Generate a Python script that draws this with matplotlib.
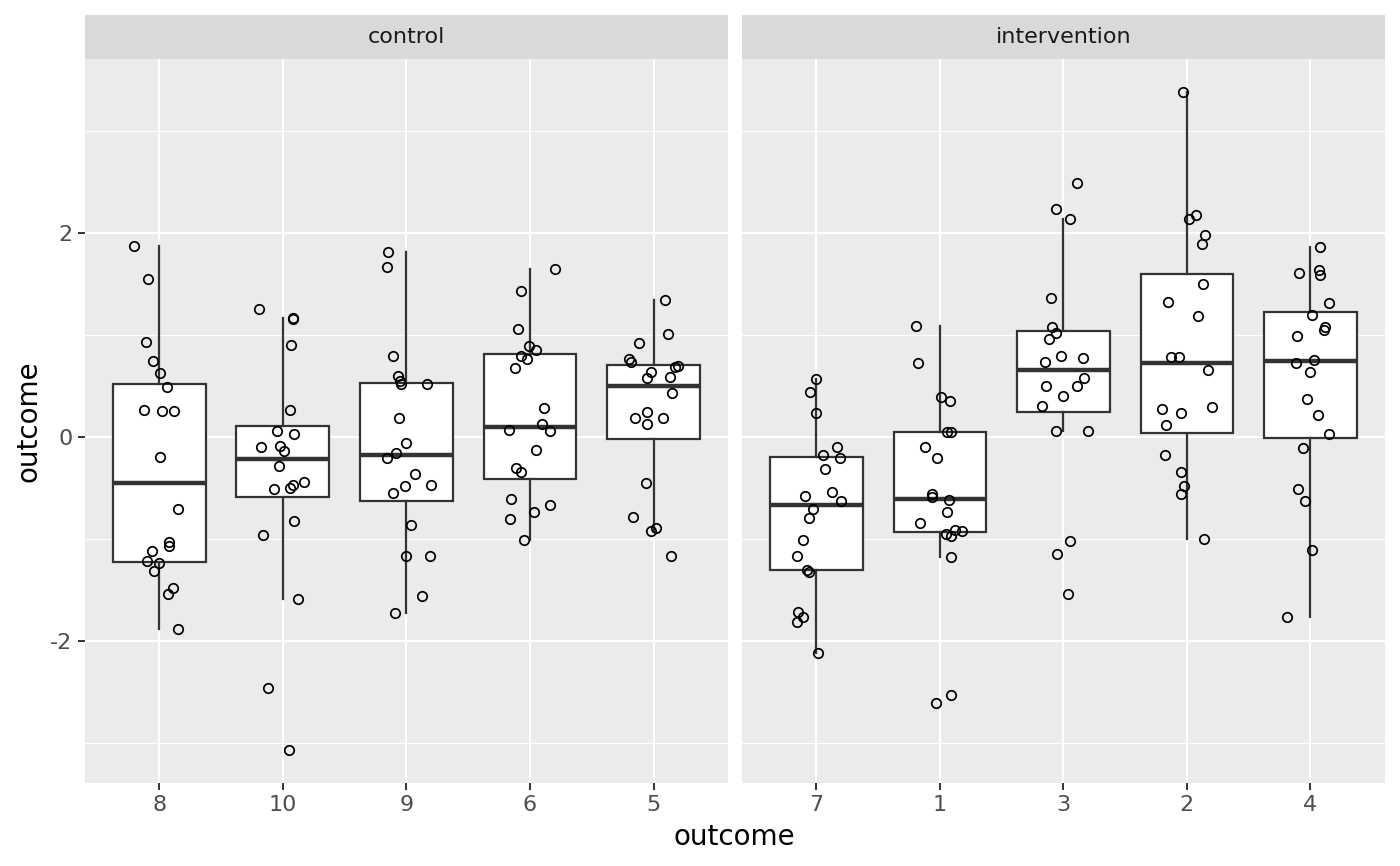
import matplotlib
matplotlib.use("Agg")
import matplotlib.pyplot as plt
from matplotlib.ticker import FixedLocator
import numpy as np

# ---------------- data ----------------
facets = ["control", "intervention"]
control_groups = ["8", "10", "9", "6", "5"]
intervention_groups = ["7", "1", "3", "2", "4"]

outcome_g8 = [1.870, 1.546, 0.934, 0.748, 0.624, 0.484, 0.265, 0.255, 0.255, -0.199,
              -0.703, -1.036, -1.069, -1.124, -1.222, -1.239, -1.314, -1.484, -1.543, -1.886]
jitter_g8 = [-0.20, -0.09, -0.11, -0.05, 0.01, 0.06, -0.12, 0.02, 0.12, 0.01,
             0.15, 0.08, 0.08, -0.06, -0.10, 0.00, -0.04, 0.11, 0.07, 0.15]

outcome_g10 = [1.252, 1.163, 1.160, 0.905, 0.258, 0.059, 0.026, -0.101, -0.088, -0.137,
               -0.291, -0.441, -0.471, -0.503, -0.516, -0.830, -0.961, -1.591, -2.467, -3.069]
jitter_g10 = [-0.19, 0.08, 0.085, 0.07, 0.06, -0.05, 0.09, -0.18, -0.02, 0.01,
              -0.03, 0.17, 0.08, 0.06, -0.07, 0.09, -0.16, 0.12, -0.12, 0.05]

outcome_g9 = [1.817, 1.667, 0.794, 0.601, 0.552, 0.520, 0.520, 0.180, -0.062, -0.160,
              -0.203, -0.369, -0.484, -0.477, -0.552, -0.860, -1.167, -1.167, -1.565, -1.725]
jitter_g9 = [-0.15, -0.16, -0.11, -0.07, -0.05, -0.04, 0.17, -0.06, 0.00, -0.08,
             -0.16, 0.07, -0.01, 0.20, -0.11, 0.04, 0.00, 0.19, 0.13, -0.09]

outcome_g6 = [1.650, 1.431, 1.056, 0.886, 0.853, 0.794, 0.761, 0.673, 0.284, 0.127,
              0.059, 0.069, -0.131, -0.301, -0.343, -0.614, -0.667, -0.738, -0.804, -1.007]
jitter_g6 = [0.20, -0.07, -0.10, -0.01, 0.05, -0.07, -0.02, -0.12, 0.11, 0.10,
             0.16, -0.17, 0.05, -0.11, -0.07, -0.15, 0.16, 0.03, -0.16, -0.05]

outcome_g5 = [1.343, 1.010, 0.918, 0.761, 0.729, 0.690, 0.680, 0.637, 0.575, 0.585,
              0.425, 0.239, 0.183, 0.183, 0.124, -0.448, -0.791, -0.899, -0.928, -1.164]
jitter_g5 = [0.09, 0.12, -0.12, -0.20, -0.18, 0.20, 0.17, -0.02, -0.05, 0.13,
             0.15, -0.05, -0.15, 0.08, -0.05, -0.06, -0.17, 0.02, -0.02, 0.14]

outcome_g7 = [0.569, 0.435, 0.229, -0.098, -0.183, -0.206, -0.317, -0.582, -0.546, -0.634,
              -0.703, -0.794, -1.010, -1.170, -1.304, -1.330, -1.722, -1.768, -1.820, -2.124]
jitter_g7 = [0.00, -0.05, 0.00, 0.17, 0.05, 0.19, 0.07, -0.09, 0.13, 0.20,
             -0.03, -0.06, -0.11, -0.16, -0.08, -0.06, -0.15, -0.11, -0.16, 0.01]

outcome_g1 = [1.091, 0.719, 0.386, 0.353, 0.052, 0.052, -0.098, -0.212, -0.562, -0.595,
              -0.624, -0.735, -0.850, -0.951, -0.912, -0.928, -0.971, -1.183, -2.608, -2.533]
jitter_g1 = [-0.19, -0.18, 0.01, 0.08, 0.06, 0.09, -0.12, -0.02, -0.06, -0.06,
             0.07, 0.06, -0.16, 0.05, 0.12, 0.18, 0.09, 0.09, -0.03, 0.09]

outcome_g3 = [2.493, 2.235, 2.134, 1.359, 1.072, 1.020, 0.958, 0.794, 0.768, 0.729,
              0.575, 0.500, 0.503, 0.405, 0.304, 0.059, 0.059, -1.020, -1.150, -1.539]
jitter_g3 = [0.11, -0.06, 0.05, -0.10, -0.09, -0.06, -0.12, -0.02, 0.16, -0.15,
             0.17, -0.14, 0.11, 0.00, -0.17, -0.06, 0.20, 0.05, -0.05, 0.04]

outcome_g2 = [3.382, 2.173, 2.131, 1.980, 1.895, 1.497, 1.324, 1.183, 0.781, 0.778,
              0.660, 0.275, 0.294, 0.235, 0.111, -0.180, -0.343, -0.480, -0.556, -1.000]
jitter_g2 = [-0.03, 0.07, 0.02, 0.15, 0.12, 0.13, -0.15, 0.09, -0.13, -0.06,
             0.17, -0.20, 0.20, -0.05, -0.17, -0.18, -0.05, -0.02, -0.05, 0.14]

outcome_g4 = [1.866, 1.605, 1.637, 1.585, 1.311, 1.193, 1.072, 1.052, 0.990, 0.755,
              0.725, 0.634, 0.369, 0.216, 0.026, -0.114, -0.507, -0.627, -1.114, -1.771]
jitter_g4 = [0.08, -0.09, 0.07, 0.08, 0.15, 0.01, 0.12, 0.11, -0.11, 0.03,
             -0.12, 0.00, -0.03, 0.06, 0.15, -0.06, -0.10, -0.04, 0.01, -0.19]

y_ticks = [-2, 0, 2]
y_minor = [-3, -1, 1, 3]

# ---------------- assemble ----------------
outcomes = {"8": outcome_g8, "10": outcome_g10, "9": outcome_g9, "6": outcome_g6, "5": outcome_g5,
            "7": outcome_g7, "1": outcome_g1, "3": outcome_g3, "2": outcome_g2, "4": outcome_g4}
jitters = {"8": jitter_g8, "10": jitter_g10, "9": jitter_g9, "6": jitter_g6, "5": jitter_g5,
           "7": jitter_g7, "1": jitter_g1, "3": jitter_g3, "2": jitter_g2, "4": jitter_g4}
facet_groups = [control_groups, intervention_groups]

allv = np.concatenate([np.asarray(v) for v in outcomes.values()])
lo, hi = allv.min(), allv.max()
pad = 0.05 * (hi - lo)

W, H = 1400, 866
fig = plt.figure(figsize=(W / 100, H / 100), dpi=100)
fig.patch.set_facecolor("white")

panel_top, panel_bot = 59, 782.7
panels_x = [(85, 727.7), (742.3, 1384.5)]
strip_top = 15

DARK = "#333333"
TICK_FS = 16.0
TITLE_FS = 20.0
for i, (x0, x1) in enumerate(panels_x):
    ax = fig.add_axes([x0 / W, 1 - panel_bot / H, (x1 - x0) / W, (panel_bot - panel_top) / H])
    ax.set_facecolor("#EBEBEB")
    for s in ax.spines.values():
        s.set_visible(False)
    groups = facet_groups[i]
    pos = np.arange(1, len(groups) + 1)
    data = [outcomes[g] for g in groups]
    ax.boxplot(data, positions=pos, widths=0.75, whis=1.5, showfliers=False,
               showcaps=False, patch_artist=True,
               boxprops=dict(facecolor="white", edgecolor=DARK, linewidth=1.6),
               medianprops=dict(color=DARK, linewidth=3.2, solid_capstyle="butt"),
               whiskerprops=dict(color=DARK, linewidth=1.6),
               zorder=2)
    for p, g in zip(pos, groups):
        xs = p + np.asarray(jitters[g])
        ax.plot(xs, outcomes[g], linestyle="none", marker="o", markersize=6.8,
                markerfacecolor="none", markeredgecolor="black", markeredgewidth=1.25,
                zorder=3)
    ax.set_xlim(0.4, len(groups) + 0.6)
    ax.set_ylim(lo - pad, hi + pad)
    ax.set_axisbelow(True)
    ax.yaxis.set_major_locator(FixedLocator(y_ticks))
    ax.yaxis.set_minor_locator(FixedLocator(y_minor))
    ax.set_xticks(pos)
    ax.set_xticklabels(groups)
    ax.grid(which="major", color="white", linewidth=1.5)
    ax.grid(which="minor", axis="y", color="white", linewidth=0.75)
    ax.tick_params(axis="both", which="major", length=5.0, width=1.4, color=DARK,
                   labelcolor="#4D4D4D", labelsize=TICK_FS, pad=4.0)
    ax.tick_params(axis="y", which="minor", length=0)
    if i == 0:
        ax.set_yticklabels([str(t) for t in y_ticks])
    else:
        ax.tick_params(axis="y", which="major", length=0, labelleft=False)

    # strip
    sax = fig.add_axes([x0 / W, 1 - panel_top / H, (x1 - x0) / W, (panel_top - strip_top) / H])
    sax.set_facecolor("#D9D9D9")
    for s in sax.spines.values():
        s.set_visible(False)
    sax.set_xticks([])
    sax.set_yticks([])
    sax.text(0.5, 0.5, facets[i], transform=sax.transAxes, ha="center", va="center",
             fontsize=TICK_FS, color="#1A1A1A")

fig.text((85 + 1384.5) / 2 / W, 1 - 836.7 / H, "outcome", ha="center", va="center",
         fontsize=TITLE_FS, color="black")
fig.text(28 / W, 1 - (panel_top + panel_bot) / 2 / H, "outcome", ha="center", va="center",
         rotation=90, fontsize=TITLE_FS, color="black")

fig.savefig("out.png", dpi=100, facecolor="white")
